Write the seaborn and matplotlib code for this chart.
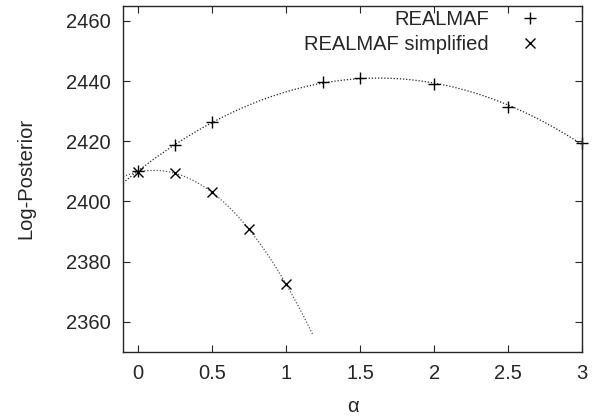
import matplotlib
matplotlib.use("Agg")
import matplotlib.pyplot as plt
import numpy as np
import seaborn as sns

# ---- data ----
alpha_full = [0.0, 0.25, 0.5, 1.25, 1.5, 2.0, 2.5, 3.0]
logpost_full = [2410.0, 2418.6, 2426.5, 2439.8, 2440.9, 2439.0, 2431.5, 2419.3]

alpha_simpl = [0.0, 0.25, 0.5, 0.75, 1.0]
logpost_simpl = [2409.8, 2409.3, 2403.1, 2390.8, 2372.6]

curve_full_range = (-0.1, 3.0)
curve_simpl_range = (-0.1, 1.18)

sns.set_style("ticks")
plt.rcParams["font.family"] = ["Liberation Sans", "DejaVu Sans"]

fig = plt.figure(figsize=(6.09, 4.17), dpi=100)
ax = fig.add_axes([0.202, 0.156, 0.754, 0.830])

# quadratic fits drawn as dotted curves
for xs, ys, rng, col in [(alpha_full, logpost_full, curve_full_range, "#222222"),
                         (alpha_simpl, logpost_simpl, curve_simpl_range, "#555555")]:
    coef = np.polyfit(xs, ys, 2)
    xx = np.linspace(rng[0], rng[1], 200)
    sns.lineplot(x=xx, y=np.polyval(coef, xx), ax=ax, color=col,
                 linestyle=(0, (1, 1.5)), linewidth=0.9, legend=False)

ax.plot(alpha_full, logpost_full, linestyle="none", marker="+", markersize=9,
        markeredgewidth=1.0, color="black", label="REALMAF", clip_on=False)
ax.plot(alpha_simpl, logpost_simpl, linestyle="none", marker="x", markersize=7,
        markeredgewidth=1.0, color="black", label="REALMAF simplified")

ax.set_xlim(-0.1, 3.0)
ax.set_ylim(2350, 2465)
ax.set_xticks([0, 0.5, 1, 1.5, 2, 2.5, 3])
ax.set_xticklabels(["0", "0.5", "1", "1.5", "2", "2.5", "3"])
ax.set_yticks([2360, 2380, 2400, 2420, 2440, 2460])
ax.tick_params(direction="in", length=5, width=0.8, labelsize=14.5,
               top=True, right=True, pad=9)
for s in ax.spines.values():
    s.set_linewidth(1.0)
    s.set_visible(True)

ax.set_xlabel("α", fontsize=14.5, labelpad=10)
ax.set_ylabel("Log-Posterior", fontsize=14.5, labelpad=22)

ax.legend(loc="upper right", bbox_to_anchor=(0.95, 1.03), frameon=False,
          markerfirst=False, fontsize=14.5, handletextpad=1.3,
          labelspacing=0.3, borderaxespad=0.3, handlelength=1.5)

fig.savefig("out.png", dpi=100)
